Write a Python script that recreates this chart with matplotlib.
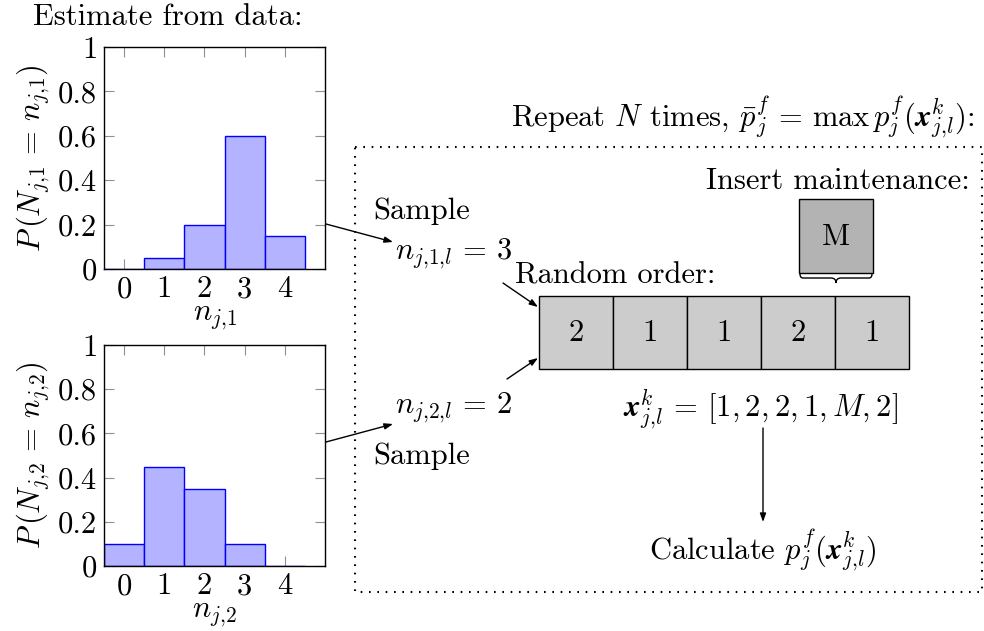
import matplotlib
matplotlib.use('Agg')
import matplotlib.pyplot as plt
from matplotlib.patches import Rectangle, PathPatch
from matplotlib.path import Path

plt.rcParams['font.family'] = 'serif'
plt.rcParams['font.serif'] = ['cmr10']
plt.rcParams['mathtext.fontset'] = 'cm'
plt.rcParams['axes.unicode_minus'] = False
plt.rcParams['axes.formatter.use_mathtext'] = True

# Estimated distributions of the two counts
counts = [0, 1, 2, 3, 4]
p_n1 = [0.0, 0.05, 0.2, 0.6, 0.15]
p_n2 = [0.1, 0.45, 0.35, 0.1, 0.0]
y_ticks = [0, 0.2, 0.4, 0.6, 0.8, 1]
y_ticklabels = ['0', '0.2', '0.4', '0.6', '0.8', '1']

# Random order of the sampled tasks
order = ['2', '1', '1', '2', '1']

FS = 22
W, H = 984, 631

fig = plt.figure(figsize=(W / 100, H / 100), dpi=100)


def px_axes(x0, y0, x1, y1):
    # axes placed from pixel corners (top-left origin)
    return fig.add_axes([x0 / W, 1 - y1 / H, (x1 - x0) / W, (y1 - y0) / H])


def histogram(ax, probs, sub):
    ax.bar(counts, probs, width=1.0, color='#b3b3ff', edgecolor='#0000ff',
           linewidth=1.0, zorder=2)
    ax.set_xlim(-0.5, 5)
    ax.set_ylim(0, 1)
    ax.set_xticks(counts)
    ax.set_xticklabels([str(c) for c in counts])
    ax.set_yticks(y_ticks)
    ax.set_yticklabels(y_ticklabels)
    ax.tick_params(direction='in', length=7, width=0.8, color='#909090',
                   top=True, right=True, labelsize=FS, pad=5)
    for s in ax.spines.values():
        s.set_linewidth(1.0)
        s.set_zorder(3)
    ax.set_xlabel(r'$n_{j{,}%s}$' % sub, fontsize=FS, labelpad=1)
    ax.set_ylabel(r'$P\,(N_{j{,}%s}\,=\,n_{j{,}%s})$' % (sub, sub),
                  fontsize=FS, labelpad=4)


ax1 = px_axes(104, 47, 325, 269)
histogram(ax1, p_n1, '1')
ax2 = px_axes(104, 345, 325, 566)
histogram(ax2, p_n2, '2')

# Diagram layer in pixel coordinates
ov = fig.add_axes([0, 0, 1, 1])
ov.set_xlim(0, W)
ov.set_ylim(H, 0)
ov.axis('off')
ov.patch.set_alpha(0)

ov.text(168, 17, 'Estimate from data:', fontsize=FS, ha='center', va='center')

# dotted frame around the sampling loop
ov.add_patch(Rectangle((355, 147), 627, 445, fill=False, edgecolor='black',
                       linewidth=1.5, linestyle=(0, (0.8, 3.2))))
ov.text(975, 117,
        r'Repeat $N$ times, $\bar{p}^f_j\,=\,\max\, p^f_j(\mathbfit{x}^k_{j{,}l})$:',
        fontsize=FS, ha='right', va='center')
ov.text(970, 181, 'Insert maintenance:', fontsize=FS, ha='right', va='center')

arrow = dict(arrowstyle='-|>,head_length=0.5,head_width=0.18', color='black',
             lw=1.0, shrinkA=0, shrinkB=0)
ov.annotate('', xy=(393, 242), xytext=(326, 224), arrowprops=arrow)
ov.annotate('', xy=(393, 424), xytext=(326, 442), arrowprops=arrow)
ov.annotate('', xy=(538, 307), xytext=(503, 283), arrowprops=arrow)
ov.annotate('', xy=(538, 358), xytext=(507, 379), arrowprops=arrow)
ov.annotate('', xy=(763, 522), xytext=(763, 428), arrowprops=arrow)

ov.text(373, 211, 'Sample', fontsize=FS, ha='left', va='center')
ov.text(373, 456, 'Sample', fontsize=FS, ha='left', va='center')
ov.text(395, 254, r'$n_{j{,}1{,}l}\,=\,3$', fontsize=FS, ha='left', va='center')
ov.text(395, 408, r'$n_{j{,}2{,}l}\,=\,2$', fontsize=FS, ha='left', va='center')
ov.text(515, 276, 'Random order:', fontsize=FS, ha='left', va='center')

# row of task cells
cell_w, cell_h = 74, 73
for i, lab in enumerate(order):
    x0 = 539 + i * cell_w
    ov.add_patch(Rectangle((x0, 296), cell_w, cell_h, facecolor='#cccccc',
                           edgecolor='black', linewidth=1.0))
    ov.text(x0 + cell_w / 2, 333, lab, fontsize=FS, ha='center', va='center')

# maintenance block with brace pointing into the row
ov.add_patch(Rectangle((799, 199), 74, 74, facecolor='#b3b3b3',
                       edgecolor='black', linewidth=1.0))
ov.text(836, 237, 'M', fontsize=FS, ha='center', va='center')
verts = [(800, 274), (800, 278), (803, 278), (806, 278),
         (831, 278), (836, 278), (836, 283),
         (836, 278), (841, 278), (866, 278),
         (869, 278), (872, 278), (872, 274)]
codes = [Path.MOVETO, Path.CURVE3, Path.CURVE3, Path.LINETO,
         Path.LINETO, Path.CURVE3, Path.CURVE3,
         Path.CURVE3, Path.CURVE3, Path.LINETO,
         Path.LINETO, Path.CURVE3, Path.CURVE3]
ov.add_patch(PathPatch(Path(verts, codes), fill=False, edgecolor='black',
                       linewidth=1.0))

ov.text(760, 409, r'$\mathbfit{x}^k_{j{,}l}\,=\,[1, 2, 2, 1, M, 2]$', fontsize=FS,
        ha='center', va='center')
ov.text(763, 550, r'Calculate $p^f_j(\mathbfit{x}^k_{j{,}l})$', fontsize=FS,
        ha='center', va='center')

fig.savefig('out.png', dpi=100)
